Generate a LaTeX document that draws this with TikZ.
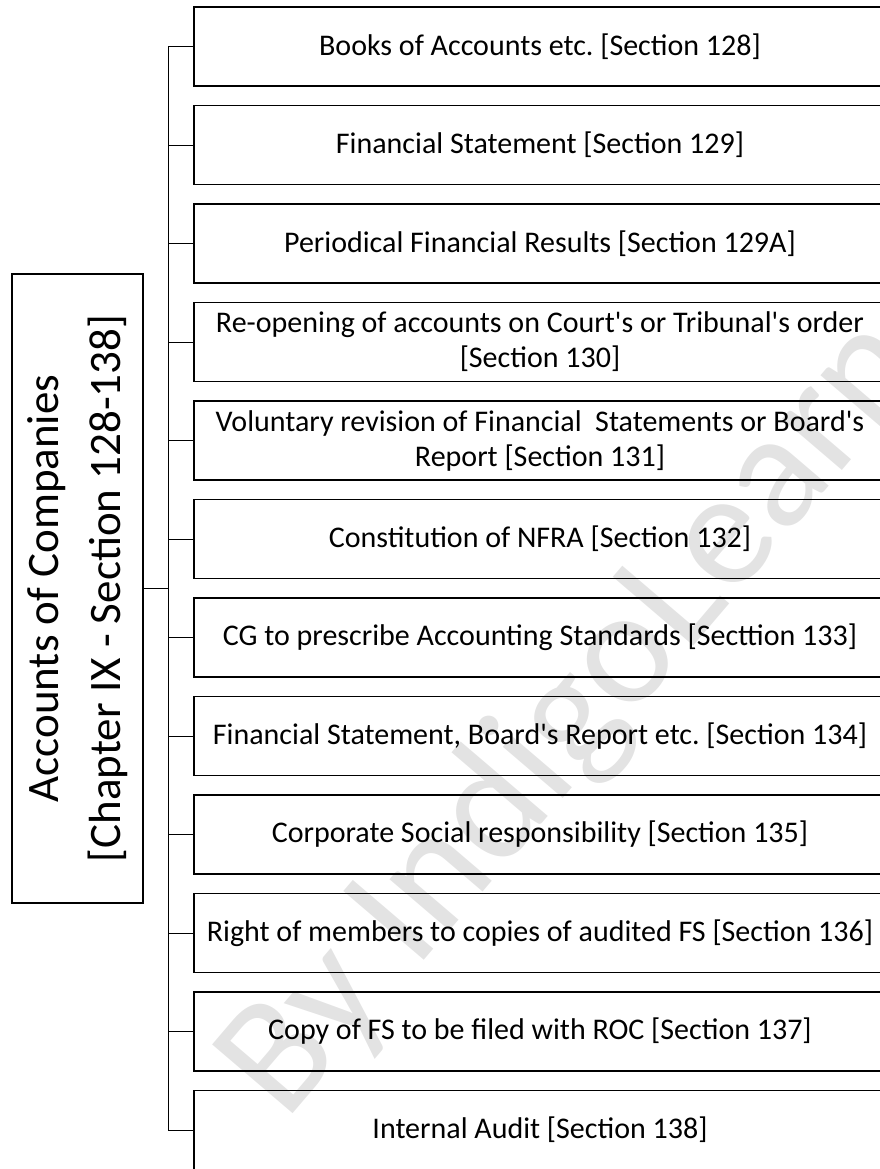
\documentclass[tikz,border=0pt]{standalone}
\usepackage{fontspec}
\setmainfont{Carlito}
\usetikzlibrary{positioning}
\newcommand{\q}{\textquotesingle}
\frenchspacing

\begin{document}
\begin{tikzpicture}[x=1pt,y=-1pt,
	sec_node/.style={draw,line width=1.6pt,minimum width=692pt,minimum height=79pt,inner sep=0pt,align=center,font=\fontsize{30}{35}\selectfont},
	main_node/.style={draw,line width=1.3pt,minimum width=629pt,minimum height=131pt,inner sep=0pt,rotate=90,align=center,font=\fontsize{45}{62}\selectfont},
	link/.style={line width=0.9pt}]
			
			\useasboundingbox (0,0) rectangle (880,1169);
			
			% watermark across the boxes
			\node[rotate=49.5,text=black!11,font=\fontsize{165}{165}\selectfont] (mark) at (575,718) {By IndigoLearn};
			
			\node[main_node] (0) at (77.5,588.5) {Accounts of Companies\\{}[Chapter IX - Section 128-138]};
			\coordinate (hub) at (168,588.5);
			
			\node[sec_node] (1) at (540,46.5) {Books of Accounts etc. [Section 128]};
			\node[sec_node] (2) at (540,145) {Financial Statement [Section 129]};
			\node[sec_node] (3) at (540,243.5) {Periodical Financial Results [Section 129A]};
			\node[sec_node] (4) at (540,342) {Re-opening of accounts on Court\q s or Tribunal\q s order\\{}[Section 130]};
			\node[sec_node] (5) at (540,440.5) {Voluntary revision of Financial\ \ Statements or Board\q s\\Report [Section 131]};
			\node[sec_node] (6) at (540,539) {Constitution of NFRA [Section 132]};
			\node[sec_node] (7) at (540,637.5) {CG to prescribe Accounting Standards [Secttion 133]};
			\node[sec_node] (8) at (540,736) {Financial Statement, Board\q s Report etc. [Section 134]};
			\node[sec_node] (9) at (540,834.5) {Corporate Social responsibility [Section 135]};
			\node[sec_node] (10) at (540,933) {Right of members to copies of audited FS [Section 136]};
			\node[sec_node] (11) at (540,1031.5) {Copy of FS to be filed with ROC [Section 137]};
			\node[sec_node] (12) at (540,1130) {Internal Audit [Section 138]};
			
			\draw[line width=1.5pt] (0.south) -- (hub);
			\draw[link] (hub) |- (1.west);
			\draw[link] (hub) |- (2.west);
			\draw[link] (hub) |- (3.west);
			\draw[link] (hub) |- (4.west);
			\draw[link] (hub) |- (5.west);
			\draw[link] (hub) |- (6.west);
			\draw[link] (hub) |- (7.west);
			\draw[link] (hub) |- (8.west);
			\draw[link] (hub) |- (9.west);
			\draw[link] (hub) |- (10.west);
			\draw[link] (hub) |- (11.west);
			\draw[link] (hub) |- (12.west);
		\end{tikzpicture}
\end{document}
